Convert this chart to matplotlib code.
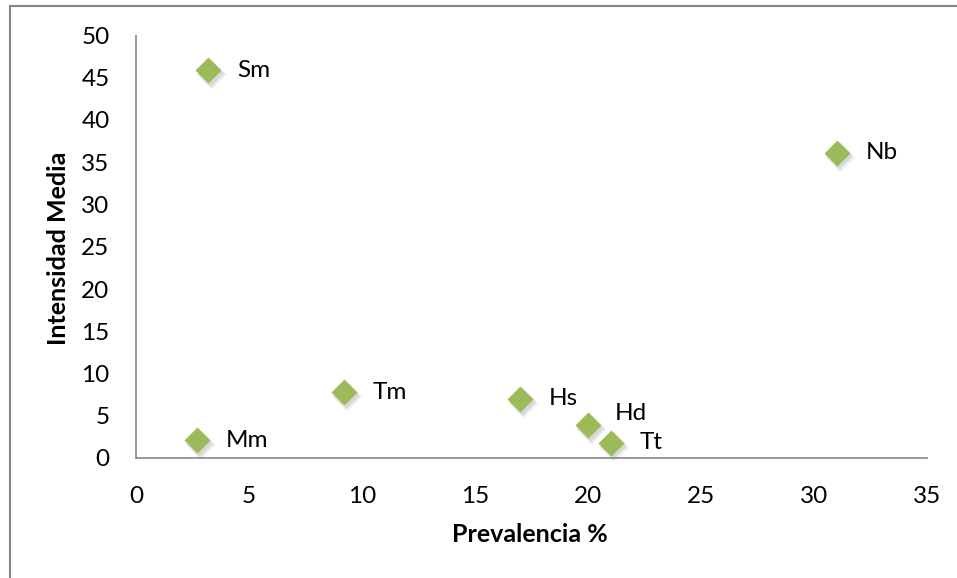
import matplotlib
matplotlib.use("Agg")
import matplotlib.pyplot as plt
from matplotlib.lines import Line2D
import matplotlib.transforms as mtransforms

plt.rcParams['font.family'] = ['Lato', 'DejaVu Sans']

# Prevalence (%) and mean intensity per species
species = ["Sm", "Nb", "Tm", "Mm", "Hs", "Hd", "Tt"]
prevalencia = [3.2, 31.0, 9.2, 2.7, 17.0, 20.0, 21.0]
intensidad = [45.9, 36.1, 7.8, 2.1, 7.0, 3.9, 1.8]

x_ticks = [0, 5, 10, 15, 20, 25, 30, 35]
y_ticks = [0, 5, 10, 15, 20, 25, 30, 35, 40, 45, 50]

# label placement (pixels from marker centre)
label_offsets = {"Hd": (27, 12)}
default_offset = (29, 0)

W, H, DPI = 957, 578, 100
fig = plt.figure(figsize=(W / DPI, H / DPI), dpi=DPI)
fig.patch.set_facecolor("white")

ax = fig.add_axes([136 / W, 1 - 458 / H, (927 - 136) / W, (458 - 35.5) / H])
ax.set_xlim(0, 35)
ax.set_ylim(0, 50)
ax.set_xticks(x_ticks)
ax.set_yticks(y_ticks)
ax.tick_params(length=0, labelsize=17.5, colors="black")
ax.tick_params(axis="y", pad=19)
ax.tick_params(axis="x", pad=20)
for side in ("top", "right"):
    ax.spines[side].set_visible(False)
for side in ("left", "bottom"):
    ax.spines[side].set_color("#868686")
    ax.spines[side].set_linewidth(1.2)

# soft drop shadow under the markers
for dx, dy, a, ms in [(3, -4, 0.08, 15.5), (2.5, -3.5, 0.11, 14.5), (2, -3, 0.14, 13.2)]:
    off = mtransforms.offset_copy(ax.transData, fig=fig, x=dx, y=dy, units="dots")
    ax.plot(prevalencia, intensidad, linestyle="none", marker="D", ms=ms,
            color="#7f7f7f", alpha=a, mec="none", transform=off, clip_on=False, zorder=2)

ax.plot(prevalencia, intensidad, linestyle="none", marker="D", ms=13.7,
        color="#9BBB59", mec="none", clip_on=False, zorder=3)

for name, xv, yv in zip(species, prevalencia, intensidad):
    dx, dy = label_offsets.get(name, default_offset)
    ax.annotate(name, (xv, yv), xytext=(dx, dy), textcoords="offset pixels",
                ha="left", va="center", fontsize=17.5, color="black", zorder=4)

fig.text(530 / W, 1 - 535 / H, "Prevalencia %", ha="center", va="center",
         fontsize=18, fontweight="bold")
fig.text(59 / W, 1 - 248 / H, "Intensidad Media", ha="center", va="center",
         rotation=90, fontsize=18, fontweight="bold")

# chart area border (left and top edges)
fig.add_artist(Line2D([9.5 / W, 9.5 / W], [0, 1 - 6 / H], color="#868686", lw=1.5,
                      transform=fig.transFigure))
fig.add_artist(Line2D([9.5 / W, 1], [1 - 6 / H, 1 - 6 / H], color="#868686", lw=1.5,
                      transform=fig.transFigure))

fig.savefig("out.png", dpi=DPI)
